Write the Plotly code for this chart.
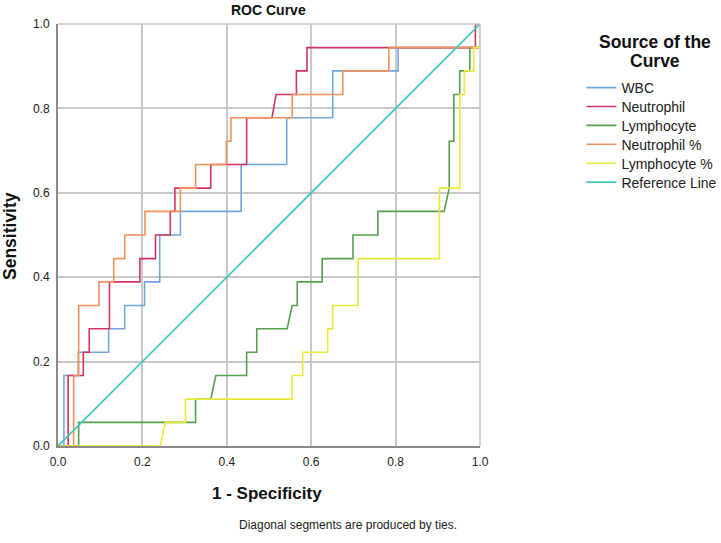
import plotly.graph_objects as go

# ---- data (1 - specificity, sensitivity) ----
wbc_x = [0, 0.014, 0.014, 0.048, 0.048, 0.120, 0.120, 0.158, 0.158, 0.205, 0.205, 0.241, 0.241,
         0.290, 0.290, 0.434, 0.434, 0.542, 0.542, 0.651, 0.651, 0.806, 0.806, 1.0, 1.0]
wbc_y = [0, 0, 0.167, 0.167, 0.222, 0.222, 0.278, 0.278, 0.333, 0.333, 0.389, 0.389, 0.5,
         0.5, 0.556, 0.556, 0.667, 0.667, 0.778, 0.778, 0.889, 0.889, 0.944, 0.944, 1.0]

neu_x = [0, 0.024, 0.024, 0.060, 0.060, 0.074, 0.074, 0.122, 0.122, 0.194, 0.194, 0.231, 0.231,
         0.266, 0.266, 0.277, 0.277, 0.362, 0.362, 0.447, 0.447, 0.507, 0.517, 0.565, 0.565,
         0.590, 0.590, 0.989, 0.989, 1.0]
neu_y = [0, 0, 0.167, 0.167, 0.222, 0.222, 0.278, 0.278, 0.389, 0.389, 0.444, 0.444, 0.5,
         0.5, 0.556, 0.556, 0.611, 0.611, 0.667, 0.667, 0.778, 0.778, 0.833, 0.833, 0.889,
         0.889, 0.944, 0.944, 1.0, 1.0]

lym_x = [0, 0.049, 0.049, 0.326, 0.326, 0.362, 0.374, 0.447, 0.447, 0.471, 0.471, 0.543, 0.555,
         0.567, 0.567, 0.626, 0.626, 0.699, 0.699, 0.758, 0.758, 0.915, 0.927, 0.927, 0.938,
         0.938, 0.952, 0.952, 0.976, 0.976, 1.0, 1.0]
lym_y = [0, 0, 0.056, 0.056, 0.111, 0.111, 0.167, 0.167, 0.222, 0.222, 0.278, 0.278, 0.333,
         0.333, 0.389, 0.389, 0.444, 0.444, 0.5, 0.5, 0.556, 0.556, 0.611, 0.722, 0.722,
         0.833, 0.833, 0.889, 0.889, 0.944, 0.944, 1.0]

neup_x = [0, 0.037, 0.037, 0.049, 0.049, 0.097, 0.097, 0.132, 0.132, 0.158, 0.158, 0.206, 0.206,
          0.290, 0.290, 0.326, 0.326, 0.399, 0.399, 0.410, 0.410, 0.555, 0.555, 0.675, 0.675,
          0.784, 0.784, 1.0, 1.0]
neup_y = [0, 0, 0.167, 0.167, 0.333, 0.333, 0.389, 0.389, 0.444, 0.444, 0.5, 0.5, 0.556,
          0.556, 0.611, 0.611, 0.667, 0.667, 0.722, 0.722, 0.778, 0.778, 0.833, 0.833, 0.889,
          0.889, 0.944, 0.944, 1.0]

lymp_x = [0, 0.242, 0.254, 0.302, 0.302, 0.555, 0.555, 0.580, 0.580, 0.639, 0.639, 0.651, 0.651,
          0.711, 0.711, 0.904, 0.904, 0.952, 0.952, 0.963, 0.963, 0.985, 0.985, 1.0, 1.0]
lymp_y = [0, 0, 0.056, 0.056, 0.111, 0.111, 0.167, 0.167, 0.222, 0.222, 0.278, 0.278, 0.333,
          0.333, 0.444, 0.444, 0.611, 0.611, 0.833, 0.833, 0.889, 0.889, 0.944, 0.944, 1.0]

ref_x = [0, 1]
ref_y = [0, 1]

series_names = ["WBC", "Neutrophil", "Lymphocyte", "Neutrophil %", "Lymphocyte %", "Reference Line"]
series_colors = ["#72a8de", "#d2335f", "#56a04e", "#f2925a", "#e9e93a", "#3fc6bd"]
series_x = [wbc_x, neu_x, lym_x, neup_x, lymp_x, ref_x]
series_y = [wbc_y, neu_y, lym_y, neup_y, lymp_y, ref_y]

tick_vals = [0.0, 0.2, 0.4, 0.6, 0.8, 1.0]
tick_text = ["0.0", "0.2", "0.4", "0.6", "0.8", "1.0"]

FONT = "Liberation Sans, Arial, sans-serif"
W, H = 721, 543
L, R, T, B = 58, 241, 24, 97
PW, PH = W - L - R, H - T - B  # 422 x 422


def px_x(px):
    return (px - L) / PW


def px_y(py):
    return (H - B - py) / PH


fig = go.Figure()
legend_names = ["legend", "legend2", "legend3", "legend4", "legend5", "legend6"]
for name, col, xs, ys, lg in zip(series_names, series_colors, series_x, series_y, legend_names):
    fig.add_trace(go.Scatter(x=xs, y=ys, mode="lines", name=name, legend=lg,
                             line=dict(color=col, width=1.6)))

axis_common = dict(range=[0, 1], tickvals=tick_vals, ticktext=tick_text,
                   showgrid=True, gridcolor="#c9c9c9", gridwidth=1.5,
                   zeroline=False, showline=True, linecolor="#8a8a8a", linewidth=2,
                   ticks="", tickfont=dict(family=FONT, size=12, color="#222222"),
                   ticklabelstandoff=4,
                   automargin=False, fixedrange=True)

layout_legends = {}
item_centers = [87.7, 106.6, 125.5, 144.4, 163.3, 182.2]
for lg, cy in zip(legend_names, item_centers):
    layout_legends[lg] = dict(x=581.4 / W, y=1 - (cy - 15.7) / H, xref="container", yref="container",
                              xanchor="left", yanchor="top",
                              font=dict(family=FONT, size=14, color="#222222"),
                              bgcolor="rgba(0,0,0,0)")

fig.update_layout(
    width=W, height=H,
    margin=dict(l=L, r=R, t=T, b=B, autoexpand=False),
    paper_bgcolor="white", plot_bgcolor="white",
    font=dict(family=FONT, color="#111111"),
    xaxis=dict(**axis_common),
    yaxis=dict(**axis_common),
    showlegend=True,
    **layout_legends,
)

# top/right frame in light grey
fig.add_shape(type="line", xref="paper", yref="paper", x0=0, x1=1, y0=1, y1=1,
              line=dict(color="#c9c9c9", width=1.5))
fig.add_shape(type="line", xref="paper", yref="paper", x0=1, x1=1, y0=0, y1=1,
              line=dict(color="#c9c9c9", width=1.5))

fig.add_annotation(text="<b>ROC Curve</b>", xref="paper", yref="paper",
                   x=px_x(268.5), y=px_y(10), showarrow=False,
                   xanchor="center", yanchor="middle",
                   font=dict(family=FONT, size=14, color="#111111"))
fig.add_annotation(text="<b>Sensitivity</b>", xref="paper", yref="paper",
                   x=px_x(10), y=px_y(236), textangle=-90,
                   showarrow=False, xanchor="center", yanchor="middle",
                   font=dict(family=FONT, size=17.5, color="#111111"))
fig.add_annotation(text="<b>1 - Specificity</b>", xref="paper", yref="paper",
                   x=px_x(267), y=px_y(493),
                   showarrow=False, xanchor="center", yanchor="middle",
                   font=dict(family=FONT, size=17, color="#111111"))
fig.add_annotation(text="Diagonal segments are produced by ties.", xref="paper", yref="paper",
                   x=px_x(348), y=px_y(525),
                   showarrow=False, xanchor="center", yanchor="middle",
                   font=dict(family=FONT, size=12, color="#222222"))
fig.add_annotation(text="<b>Source of the</b>", xref="paper", yref="paper",
                   x=px_x(654.5), y=px_y(42),
                   showarrow=False, xanchor="center", yanchor="middle",
                   font=dict(family=FONT, size=17.5, color="#111111"))
fig.add_annotation(text="<b>Curve</b>", xref="paper", yref="paper",
                   x=px_x(654.5), y=px_y(60.5),
                   showarrow=False, xanchor="center", yanchor="middle",
                   font=dict(family=FONT, size=17.5, color="#111111"))

fig.write_html("out.html", config={"displayModeBar": False},
               post_script="document.body.style.margin='0px';document.body.style.padding='0px';")
